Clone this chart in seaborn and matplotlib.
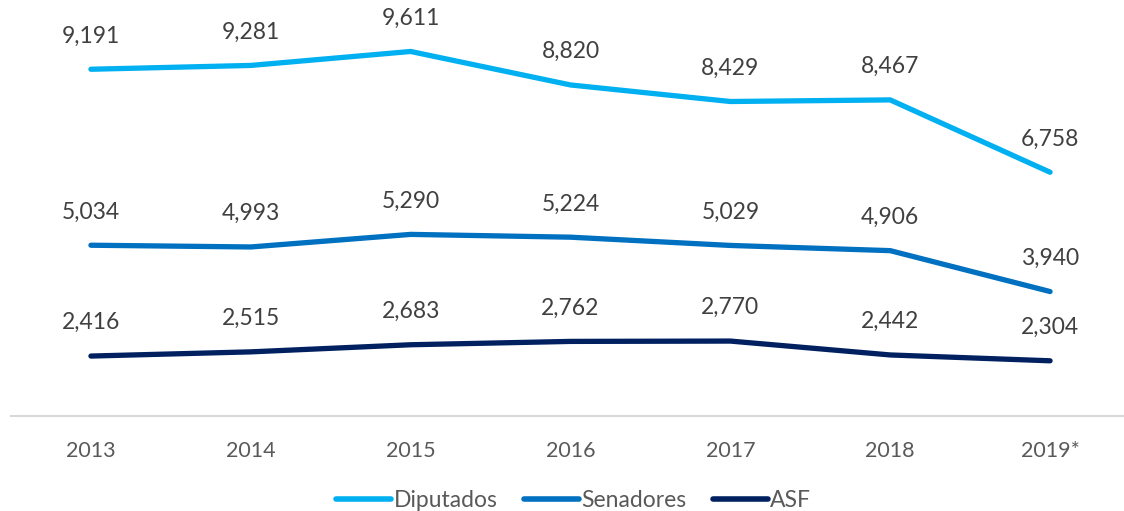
import matplotlib
matplotlib.use("Agg")
import matplotlib.pyplot as plt
import seaborn as sns
import pandas as pd

years = ["2013", "2014", "2015", "2016", "2017", "2018", "2019*"]
diputados = [9191, 9281, 9611, 8820, 8429, 8467, 6758]
senadores = [5034, 4993, 5290, 5224, 5029, 4906, 3940]
asf = [2416, 2515, 2683, 2762, 2770, 2442, 2304]
series_names = ["Diputados", "Senadores", "ASF"]
colors = ["#00B0F0", "#0070C0", "#002060"]

sns.set_theme(style="white")
plt.rcParams["font.family"] = ["Lato", "DejaVu Sans"]

rows = []
for name, vals in zip(series_names, [diputados, senadores, asf]):
    for i, (yr, v) in enumerate(zip(years, vals)):
        rows.append({"pos": i, "year": yr, "value": v, "serie": name})
df = pd.DataFrame(rows)

fig = plt.figure(figsize=(11.24, 5.11), dpi=100)
ax = fig.add_axes([11 / 1124, 1 - 416 / 511, 1119 / 1124, 381 / 511])

sns.lineplot(data=df, x="pos", y="value", hue="serie", hue_order=series_names,
             palette=colors, linewidth=3.8, ax=ax, legend=True,
             solid_capstyle="round")

for name, vals in zip(series_names, [diputados, senadores, asf]):
    for i, v in enumerate(vals):
        ax.annotate(f"{v:,}", (i, v), xytext=(0, 24), textcoords="offset points",
                    ha="center", va="center", fontsize=16.5, color="#404040")

ax.set_xlim(-0.5, 6.5)
ax.set_ylim(1000, 10000)
ax.set_xticks(range(len(years)))
ax.set_xticklabels(years, fontsize=15.5, color="#595959")
ax.tick_params(axis="x", length=0, pad=18)
ax.set_yticks([])
ax.set_xlabel("")
ax.set_ylabel("")
for s in ["top", "left", "right"]:
    ax.spines[s].set_visible(False)
ax.spines["bottom"].set_color("#D9D9D9")
ax.spines["bottom"].set_linewidth(1.5)

handles, labels = ax.get_legend_handles_labels()
for h in handles:
    h.set_linewidth(4)
    h.set_solid_capstyle("round")
ax.legend(handles, labels, loc="center", bbox_to_anchor=(0.5 + 3 / 1119, -0.222),
          ncol=3, frameon=False, fontsize=16.5, handlelength=2.4,
          handletextpad=0.1, columnspacing=1.15, labelcolor="#595959")

fig.savefig("out.png", dpi=100)
